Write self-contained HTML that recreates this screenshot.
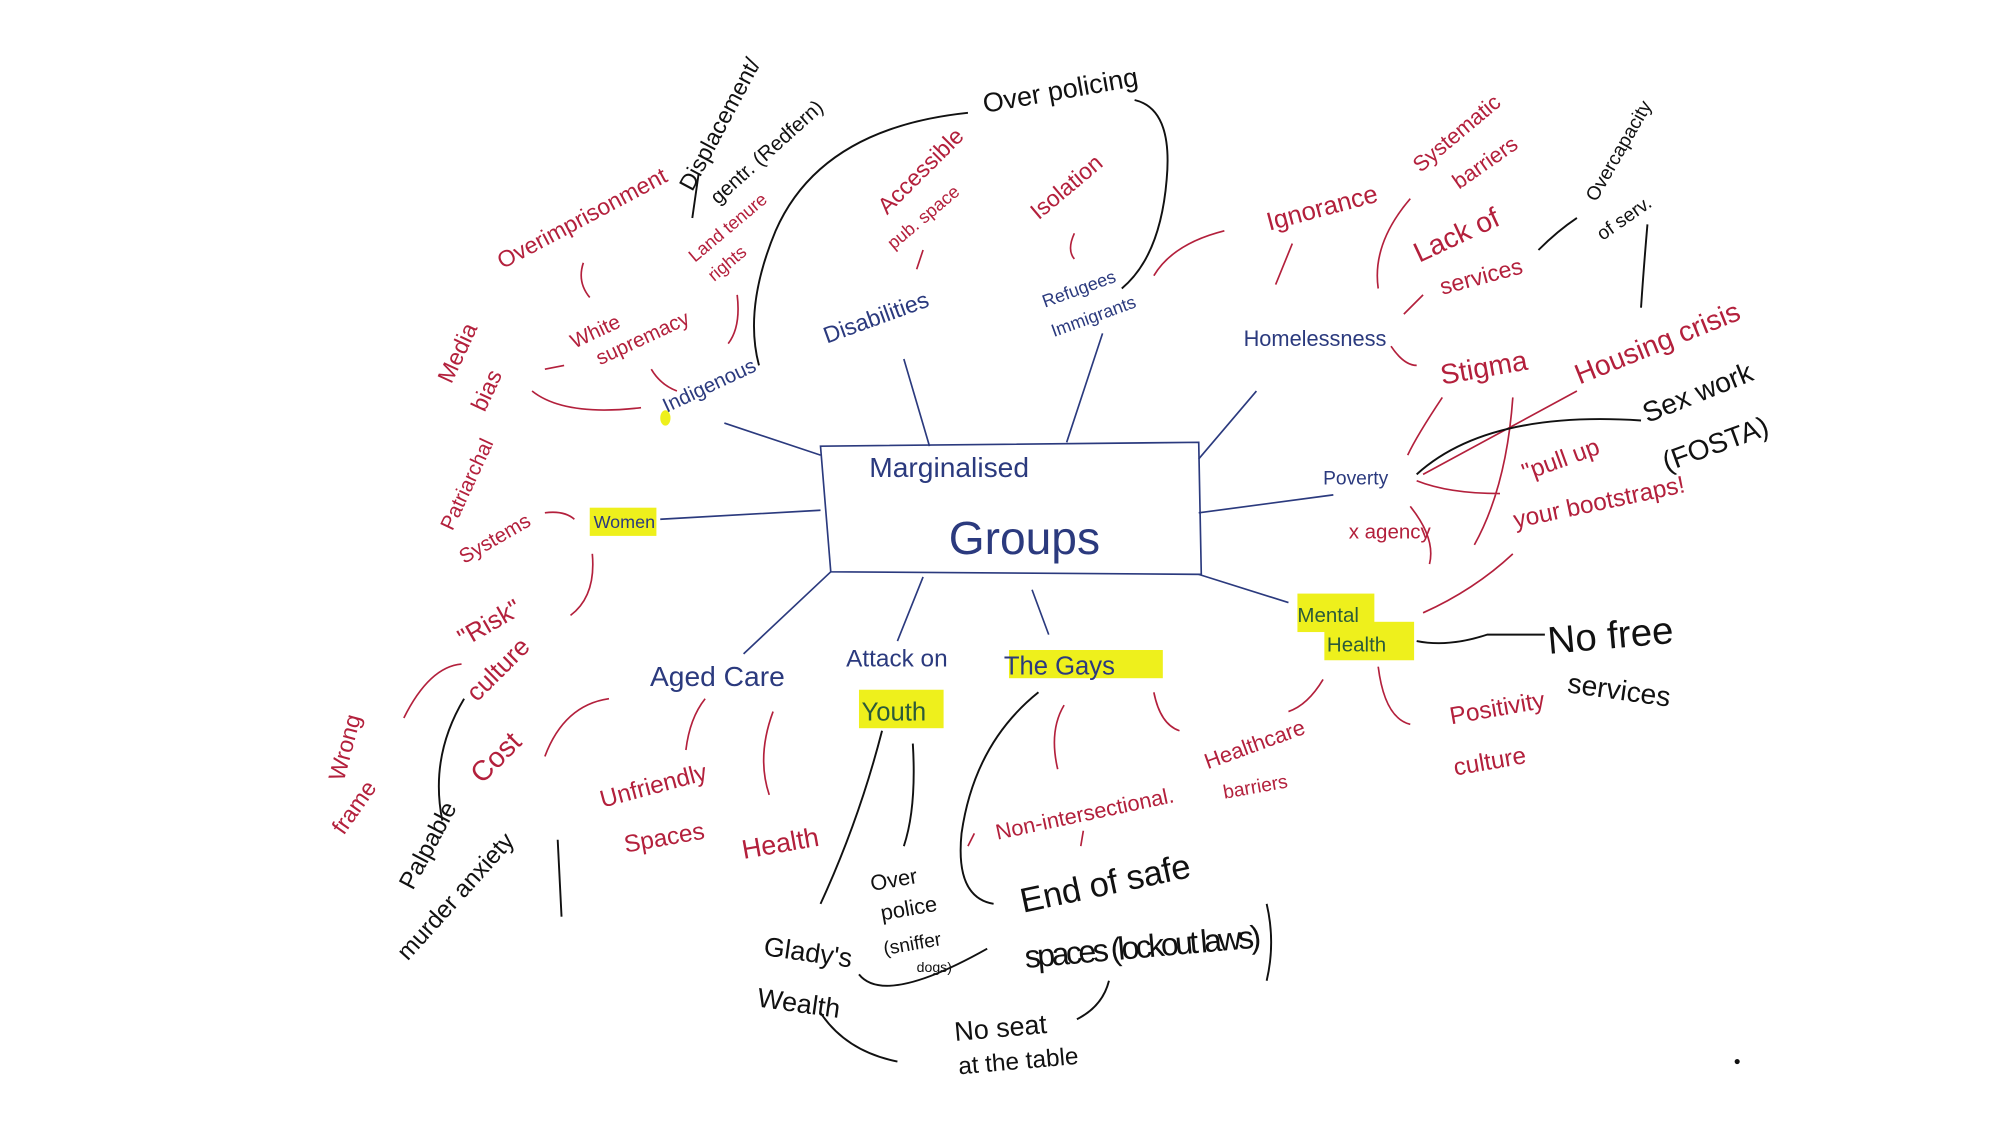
<!DOCTYPE html>
<html><head><meta charset="utf-8"><style>
html,body{margin:0;padding:0;background:#fff;}
svg{display:block;}
text{font-family:"Liberation Sans",sans-serif;}
.b{fill:#2b3a7e}.r{fill:#b3203c}.k{fill:#111}
.lb{stroke:#2b3a7e;fill:none;stroke-width:1.3}
.lr{stroke:#b3203c;fill:none;stroke-width:1.3}
.lk{stroke:#111;fill:none;stroke-width:1.5}
</style></head><body>
<svg width="2000" height="1125" viewBox="0 0 1560 877.5" xmlns="http://www.w3.org/2000/svg">
<!-- highlights -->
<g fill="#eef01c">
<ellipse cx="519" cy="326" rx="4" ry="6"/>
<rect x="460" y="396" width="52" height="22"/>
<rect x="670" y="538" width="66" height="30"/>
<rect x="787" y="507" width="120" height="22"/>
<rect x="1012" y="463" width="60" height="30"/>
<rect x="1033" y="485" width="70" height="30"/>
</g>
<!-- central box -->
<path class="lb" d="M640 348 L935 345 L937 448 L648 446 Z"/>
<text x="678" y="372" class="b" font-size="22">Marginalised</text>
<text x="740" y="432" class="b" font-size="36">Groups</text>
<!-- spokes -->
<path class="lb" d="M565 330 L640 355 M515 405 L640 398 M935 400 L1040 386 M935 448 L1005 470 M648 446 L580 510 M720 450 L700 500 M805 460 L818 495 M705 280 L725 348 M860 260 L832 345 M980 305 L935 358"/>
<!-- blue nodes -->
<text x="520" y="322" class="b" font-size="16" transform="rotate(-25 520 322)">Indigenous</text>
<text x="463" y="412" font-size="14" fill="#2b3a7e">Women</text>
<text x="645" y="268" class="b" font-size="18" transform="rotate(-20 645 268)">Disabilities</text>
<text x="815" y="240" class="b" font-size="14" transform="rotate(-20 815 240)">Refugees</text>
<text x="822" y="263" class="b" font-size="14" transform="rotate(-20 822 263)">Immigrants</text>
<text x="970" y="270" class="b" font-size="17">Homelessness</text>
<text x="1032" y="378" class="b" font-size="15">Poverty</text>
<text x="1052" y="420" class="r" font-size="16">x agency</text>
<text x="507" y="535" class="b" font-size="22">Aged Care</text>
<text x="660" y="520" class="b" font-size="19">Attack on</text>
<text x="672" y="562" fill="#2b5a3a" font-size="20">Youth</text>
<text x="783" y="526" class="b" font-size="20">The Gays</text>
<text x="1012" y="485" fill="#2b5a3a" font-size="16">Mental</text>
<text x="1035" y="508" fill="#2b5a3a" font-size="16">Health</text>
<!-- red labels -->
<text x="392" y="210" class="r" font-size="18" transform="rotate(-28 392 210)">Overimprisonment</text>
<text x="542" y="205" class="r" font-size="14" transform="rotate(-40 542 205)">Land tenure</text>
<text x="557" y="220" class="r" font-size="14" transform="rotate(-40 557 220)">rights</text>
<text x="448" y="272" class="r" font-size="16" transform="rotate(-25 448 272)">White</text>
<text x="468" y="285" class="r" font-size="16" transform="rotate(-25 468 285)">supremacy</text>
<text x="352" y="300" class="r" font-size="18" transform="rotate(-65 352 300)">Media</text>
<text x="378" y="322" class="r" font-size="18" transform="rotate(-65 378 322)">bias</text>
<text x="692" y="168" class="r" font-size="18" transform="rotate(-45 692 168)">Accessible</text>
<text x="697" y="195" class="r" font-size="14" transform="rotate(-40 697 195)">pub. space</text>
<text x="810" y="172" class="r" font-size="18" transform="rotate(-40 810 172)">Isolation</text>
<text x="990" y="180" class="r" font-size="20" transform="rotate(-15 990 180)">Ignorance</text>
<text x="1108" y="135" class="r" font-size="17" transform="rotate(-40 1108 135)">Systematic</text>
<text x="1138" y="148" class="r" font-size="17" transform="rotate(-35 1138 148)">barriers</text>
<text x="1107" y="205" class="r" font-size="22" transform="rotate(-25 1107 205)">Lack of</text>
<text x="1125" y="230" class="r" font-size="18" transform="rotate(-15 1125 230)">services</text>
<text x="1125" y="300" class="r" font-size="22" transform="rotate(-10 1125 300)">Stigma</text>
<text x="1232" y="300" class="r" font-size="22" transform="rotate(-22 1232 300)">Housing crisis</text>
<text x="1190" y="375" class="r" font-size="19" transform="rotate(-20 1190 375)">"pull up</text>
<text x="1182" y="412" class="r" font-size="19" transform="rotate(-12 1182 412)">your bootstraps!</text>
<text x="350" y="410" class="r" font-size="16" transform="rotate(-65 355 410)">Patriarchal</text>
<text x="362" y="440" class="r" font-size="16" transform="rotate(-30 362 440)">Systems</text>
<text x="362" y="505" class="r" font-size="20" transform="rotate(-30 362 505)">"Risk"</text>
<text x="372" y="548" class="r" font-size="20" transform="rotate(-45 372 548)">culture</text>
<text x="268" y="610" class="r" font-size="18" transform="rotate(-75 268 610)">Wrong</text>
<text x="268" y="652" class="r" font-size="18" transform="rotate(-55 268 652)">frame</text>
<text x="376" y="612" class="r" font-size="22" transform="rotate(-45 376 612)">Cost</text>
<text x="470" y="630" class="r" font-size="19" transform="rotate(-15 470 630)">Unfriendly</text>
<text x="488" y="665" class="r" font-size="19" transform="rotate(-10 488 665)">Spaces</text>
<text x="580" y="670" class="r" font-size="21" transform="rotate(-10 580 670)">Health</text>
<text x="778" y="655" class="r" font-size="17" transform="rotate(-12 778 655)">Non-intersectional.</text>
<text x="942" y="600" class="r" font-size="17" transform="rotate(-20 942 600)">Healthcare</text>
<text x="955" y="623" class="r" font-size="15" transform="rotate(-10 955 623)">barriers</text>
<text x="1132" y="565" class="r" font-size="19" transform="rotate(-10 1132 565)">Positivity</text>
<text x="1135" y="605" class="r" font-size="19" transform="rotate(-10 1135 605)">culture</text>
<!-- black labels -->
<text x="768" y="88" class="k" font-size="21" transform="rotate(-10 768 88)">Over policing</text>
<text x="540" y="150" class="k" font-size="18" transform="rotate(-62 540 150)">Displacement/</text>
<text x="560" y="160" class="k" font-size="16" transform="rotate(-42 560 160)">gentr. (Redfern)</text>
<text x="1245" y="158" class="k" font-size="15" transform="rotate(-60 1245 158)">Overcapacity</text>
<text x="1250" y="188" class="k" font-size="15" transform="rotate(-35 1250 188)">of serv.</text>
<text x="1285" y="330" class="k" font-size="22" transform="rotate(-22 1285 330)">Sex work</text>
<text x="1300" y="368" class="k" font-size="22" transform="rotate(-20 1300 368)">(FOSTA)</text>
<text x="1208" y="510" class="k" font-size="30" transform="rotate(-5 1208 510)">No free</text>
<text x="1222" y="540" class="k" font-size="22" transform="rotate(8 1222 540)">services</text>
<text x="322" y="695" class="k" font-size="19" transform="rotate(-62 322 695)">Palpable</text>
<text x="318" y="750" class="k" font-size="19" transform="rotate(-48 318 750)">murder anxiety</text>
<text x="595" y="745" class="k" font-size="21" transform="rotate(8 595 745)">Glady's</text>
<text x="590" y="785" class="k" font-size="21" transform="rotate(8 590 785)">Wealth</text>
<text x="680" y="695" class="k" font-size="17" transform="rotate(-10 680 695)">Over</text>
<text x="688" y="718" class="k" font-size="17" transform="rotate(-10 688 718)">police</text>
<text x="690" y="745" class="k" font-size="15" transform="rotate(-10 690 745)">(sniffer</text>
<text x="715" y="758" class="k" font-size="11">dogs)</text>
<text x="798" y="712" class="k" font-size="27" transform="rotate(-12 798 712)" textLength="135">End of safe</text>
<text x="800" y="755" class="k" font-size="25" transform="rotate(-5 800 755)" textLength="185">spaces (lockout laws)</text>
<text x="745" y="812" class="k" font-size="21" transform="rotate(-5 745 812)">No seat</text>
<text x="748" y="838" class="k" font-size="19" transform="rotate(-5 748 838)">at the table</text>
<!-- red connectors -->
<path class="lr" d="M455 205 Q450 220 460 232 M575 230 Q578 255 568 268 M508 288 Q515 300 528 305 M415 305 Q440 325 500 318 M440 285 L425 288 M720 195 L715 210 M838 182 Q832 195 838 202 M955 180 Q915 190 900 215 M1008 190 L995 222 M1100 155 Q1070 190 1075 225 M1110 230 L1095 245 M1085 270 Q1095 285 1105 285 M1125 310 Q1105 340 1098 355 M1180 310 Q1175 380 1150 425 M1105 375 Q1130 385 1170 385 M1100 395 Q1120 420 1115 440 M1180 432 Q1150 460 1110 478 M425 400 Q440 398 448 405 M462 432 Q465 465 445 480 M360 518 Q335 520 315 560 M475 545 Q440 550 425 590 M550 545 Q538 560 535 585 M603 555 Q590 590 600 620 M830 550 Q818 570 825 600 M900 540 Q905 565 920 570 M1032 530 Q1020 550 1005 555 M1075 520 Q1080 560 1100 565 M760 650 L755 660 M845 648 L843 660 M1230 305 L1110 370"/>
<!-- black connectors -->
<path class="lk" d="M755 88 Q640 100 605 180 Q580 240 592 285 M885 78 Q915 85 910 140 Q905 200 875 225 M545 135 L540 170 M1200 195 Q1215 180 1230 170 M1285 175 Q1282 210 1280 240 M1280 328 Q1160 320 1105 370 M1205 495 L1160 495 Q1130 505 1105 500 M362 545 Q335 590 345 640 M435 655 L438 715 M688 570 Q670 640 640 705 M712 580 Q715 630 705 660 M810 540 Q760 580 750 650 Q745 700 775 705 M670 760 Q690 785 770 740 M640 790 Q660 820 700 828 M865 765 Q860 785 840 795 M988 705 Q995 735 988 765"/>
<circle cx="1355" cy="828" r="2" fill="#111"/>
</svg>
</body></html>
